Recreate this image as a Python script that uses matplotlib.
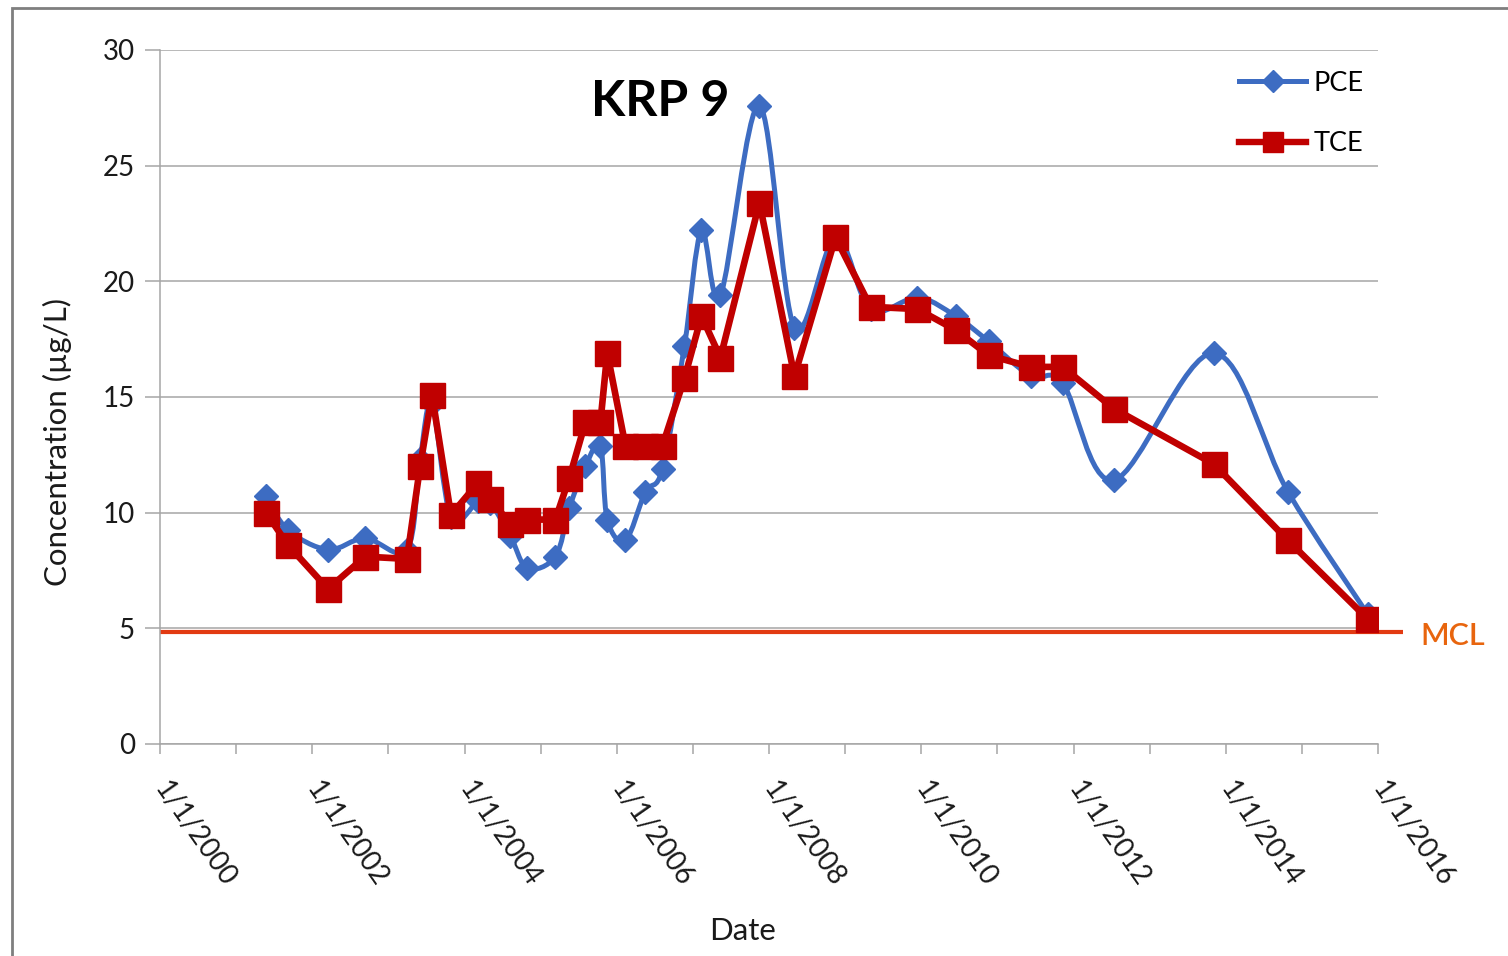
import numpy as np
import matplotlib
matplotlib.use("Agg")
import matplotlib.pyplot as plt
import matplotlib.dates as mdates
from matplotlib.path import Path
from matplotlib.patches import PathPatch, Rectangle
from matplotlib.lines import Line2D
import pandas as pd

plt.rcParams['font.family'] = ['Lato', 'DejaVu Sans']

# sample dates (shared by both series)
dates = ["2001-05-24", "2001-09-06", "2002-03-17", "2002-09-11", "2003-03-31",
         "2003-06-02", "2003-07-29", "2003-10-28", "2004-03-07", "2004-05-04",
         "2004-08-08", "2004-10-28", "2005-03-12", "2005-05-18", "2005-08-03",
         "2005-10-14", "2005-11-16", "2006-02-11", "2006-05-18", "2006-08-08",
         "2006-11-21", "2007-02-11", "2007-05-13", "2007-11-16", "2008-05-02",
         "2008-11-15", "2009-05-02", "2009-12-13", "2010-06-14", "2010-11-20",
         "2011-06-10", "2011-11-10", "2012-07-12", "2013-11-04", "2014-10-26",
         "2015-11-13"]

pce = [10.7, 9.25, 8.4, 8.9, 8.4,
       12.3, 14.7, 9.8, 10.5, 10.4,
       9.0, 7.6, 8.1, 10.2, 12.0,
       12.9, 9.7, 8.8, 10.9, 11.9,
       17.2, 22.2, 19.4, 27.6, 18.0,
       21.9, 18.8, 19.3, 18.5, 17.4,
       15.9, 15.6, 11.4, 16.9, 10.9,
       5.6]

tce = [10.0, 8.6, 6.7, 8.1, 8.0,
       12.0, 15.1, 9.9, 11.3, 10.6,
       9.5, 9.7, 9.7, 11.5, 13.9,
       13.9, 16.9, 12.9, 12.9, 12.9,
       15.8, 18.5, 16.7, 23.4, 15.9,
       21.9, 18.9, 18.8, 17.9, 16.8,
       16.3, 16.3, 14.5, 12.1, 8.8,
       5.4]

mcl = 4.85
title = "KRP 9"

blue = "#3D6CC2"
red = "#C00000"
grey = "#A6A6A6"

x = mdates.date2num(pd.to_datetime(dates))

fig = plt.figure(figsize=(15.08, 9.56), dpi=100)
ax = fig.add_axes([0.1061, 0.2218, 0.8077, 0.7259])

# smoothed PCE line (bezier through the sample points, like a spreadsheet "smoothed line")
pts = np.column_stack([x, pce])
verts = [pts[0]]
codes = [Path.MOVETO]
n = len(pts)
for i in range(n - 1):
    p0 = pts[max(i - 1, 0)]
    p1 = pts[i]
    p2 = pts[i + 1]
    p3 = pts[min(i + 2, n - 1)]
    verts += [p1 + (p2 - p0) / 6.0, p2 - (p3 - p1) / 6.0, p2]
    codes += [Path.CURVE4] * 3
ax.add_patch(PathPatch(Path(verts, codes), fill=False, edgecolor=blue, lw=3.6,
                       joinstyle="round", capstyle="round", zorder=3))
ax.plot(x, pce, linestyle="none", marker="D", markersize=12, color=blue, zorder=3)

ax.plot(x, tce, color=red, lw=4.8, marker="s", markersize=18, zorder=4,
        solid_joinstyle="round")

# MCL line, runs a little past the plot area
ax.plot([mdates.date2num(pd.Timestamp("2000-01-01")), mdates.date2num(pd.Timestamp("2016-05-01"))],
        [mcl, mcl], color="#E23A12", lw=3, zorder=2, clip_on=False, solid_capstyle="butt")
fig.text(1420 / 1508, 1 - 636 / 956, "MCL", color="#E8650E", fontsize=22,
         fontweight="semibold", va="center", ha="left")

ax.set_xlim(mdates.date2num(pd.Timestamp("2000-01-01")), mdates.date2num(pd.Timestamp("2016-01-01")))
ax.set_ylim(0, 30)
ax.set_yticks([0, 5, 10, 15, 20, 25, 30])
ax.xaxis.set_major_locator(mdates.YearLocator(2))
ax.xaxis.set_minor_locator(mdates.YearLocator(1))
ax.xaxis.set_major_formatter(plt.FuncFormatter(
    lambda v, p: "{d.month}/{d.day}/{d.year}".format(d=mdates.num2date(v))))

ax.grid(axis="y", color=grey, lw=1.1)
ax.set_axisbelow(True)
for s in ["top", "right"]:
    ax.spines[s].set_visible(False)
for s in ["left", "bottom"]:
    ax.spines[s].set_color(grey)
    ax.spines[s].set_linewidth(1.1)

ax.tick_params(axis="y", length=11, width=1.1, color=grey, labelsize=20, pad=7, labelcolor="#1a1a1a")
ax.tick_params(axis="x", which="both", length=7, width=1.1, color=grey, direction="out")
ax.tick_params(axis="x", labelsize=20, pad=22, labelcolor="#1a1a1a")
for lab in ax.get_xticklabels():
    lab.set_rotation(-55)
    lab.set_ha("left")
    lab.set_va("center")
    lab.set_rotation_mode("anchor")

ax.set_ylabel("Concentration (µg/L)", fontsize=22.5, color="#1a1a1a")
ax.yaxis.set_label_coords(-0.072, 0.435)
ax.set_xlabel("Date", fontsize=22.5, color="#1a1a1a")
ax.xaxis.set_label_coords(0.478, -0.25)

fig.text(660 / 1508, 1 - 101 / 956, title, fontsize=36, fontweight="bold",
         ha="center", va="center")

handles = [Line2D([], [], color=blue, lw=3.6, marker="D", markersize=11),
           Line2D([], [], color=red, lw=4.6, marker="s", markersize=14)]
ax.legend(handles, ["PCE", "TCE"], loc="upper right", bbox_to_anchor=(1.008, 1.005),
          frameon=False, fontsize=19.5, handlelength=2.5, handletextpad=0.25,
          labelspacing=1.3)

# outer chart frame
fig.patches.append(Rectangle((12 / 1508, -0.02), 1.2, 1 - 8 / 956 + 0.02,
                             transform=fig.transFigure, fill=False,
                             edgecolor="#7f7f7f", lw=2))

fig.savefig("out.png", dpi=100)
